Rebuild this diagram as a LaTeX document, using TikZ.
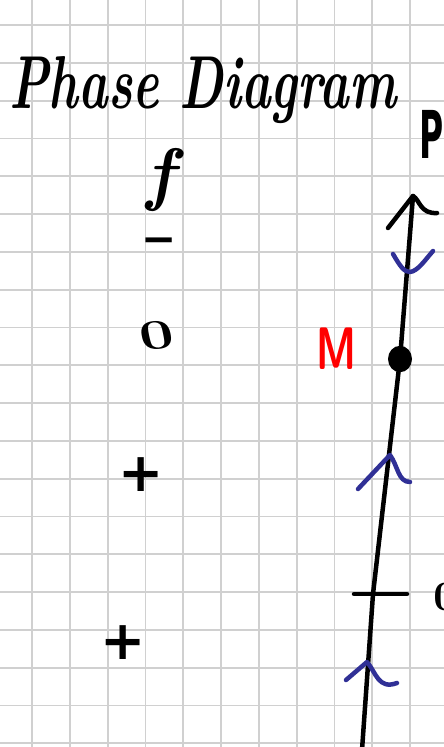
\documentclass[tikz,border=0pt]{standalone}
\usepackage{fontspec}
\newfontfamily\markfont{DejaVu Sans}
\definecolor{penblue}{RGB}{48,48,150}
\definecolor{gridgray}{RGB}{208,208,208}
\begin{document}
\begin{tikzpicture}[x=1pt,y=-1pt,
  ink/.style={line width=4.5pt, line cap=round, line join=round, draw=black},
  blueink/.style={line width=4.5pt, line cap=round, line join=round, draw=penblue},
  gridline/.style={line width=1.8pt, draw=gridgray},
  lbl/.style={inner sep=0pt, text=black},
  heavy/.style={font=\fontsize{#1}{#1}\selectfont\markfont\bfseries}]
\useasboundingbox (0,0) rectangle (444,747);
\fill[white] (0,0) rectangle (444,747);
\clip (0,0) rectangle (444,747);
% grid paper
\foreach \i in {-1,...,11} \draw[gridline] ({32+37.8*\i},0) -- ({32+37.8*\i},747);
\foreach \j in {-1,...,19} \draw[gridline] (0,{25+37.8*\j}) -- (444,{25+37.8*\j});
% title
\node[lbl, font=\fontsize{50}{52}\selectfont\bfseries\itshape, yscale=1.5] (title) at (203,90) {Phase Diagram};
% left column
\node[lbl, font=\fontsize{70}{72}\selectfont\bfseries\itshape] (flabel) at (160,180) {f};
\node[lbl, heavy=42] (fminus) at (159,246) {−};
\node[lbl, font=\fontsize{42}{44}\selectfont\bfseries, xscale=1.45, rotate=8] (fzero) at (157,335) {0};
\node[lbl, heavy=54] (fplusA) at (141,475) {+};
\node[lbl, heavy=54] (fplusB) at (123,643) {+};
% axis
\node[lbl, heavy=66, xscale=0.5] (plabel) at (432,134) {P};
\node[circle, fill=black, minimum size=24pt, inner sep=0pt, yscale=1.1] (mdot) at (400,359) {};
\node[lbl, text=red, font=\fontsize{60}{62}\selectfont\sffamily\bfseries, xscale=0.68] (mlabel) at (336,349) {M};
\coordinate (pbot) at (362,750);
\coordinate (c0) at (373,594);
\coordinate (ptop) at (413,196);
\coordinate (ahl) at (388,228);
\coordinate (ahr) at (437,213);
\draw[ink] (pbot) -- (c0) -- (mdot.center) -- (ptop);
\draw[ink] (ahl) -- (ptop) .. controls (420,200) and (420,214) .. (ahr);
\coordinate (tickL) at (354,594);
\coordinate (tickR) at (407,594);
\draw[ink] (tickL) -- (tickR);
\node[lbl, font=\fontsize{42}{44}\selectfont\bfseries, xscale=1.1] (pzero) at (446,597) {0};
% blue flow marks
\coordinate (bAl) at (393,254);
\coordinate (bAm) at (410,272);
\coordinate (bAr) at (433,251);
\draw[blueink] (bAl) .. controls (400,266) and (404,272) .. (bAm) .. controls (418,271) and (425,260) .. (bAr);
\coordinate (bBl) at (358,489);
\coordinate (bBm) at (390,455);
\coordinate (bBr) at (410,482);
\draw[blueink] (bBl) -- (bBm) .. controls (398,466) and (398,482) .. (bBr);
\coordinate (bCl) at (346,680);
\coordinate (bCm) at (367,662);
\coordinate (bCr) at (397,683);
\draw[blueink] (bCl) -- (bCm) .. controls (376,672) and (378,690) .. (bCr);
\end{tikzpicture}
\end{document}
